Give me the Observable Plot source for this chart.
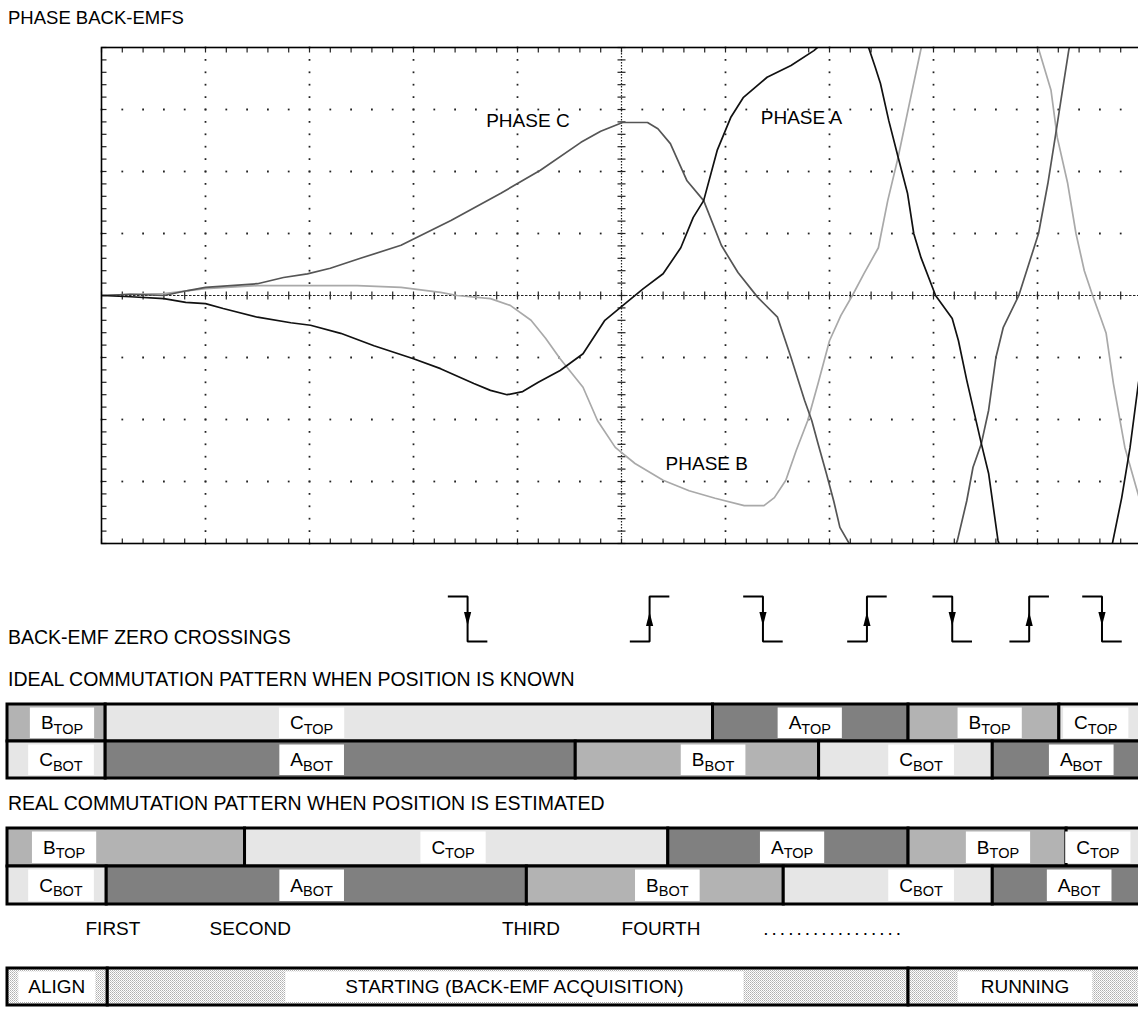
<!DOCTYPE html>
<html><head><meta charset="utf-8">
<script src="https://cdn.jsdelivr.net/npm/d3@7"></script>
<script src="https://cdn.jsdelivr.net/npm/@observablehq/plot@0.6"></script>
<style>
html,body{margin:0;padding:0;background:#fff;overflow:hidden;}
#root{position:relative;width:1141px;height:1014px;overflow:hidden;font-family:"Liberation Sans",Arial,Helvetica,sans-serif;}
.hd{position:absolute;left:8px;font-size:19.5px;line-height:1;color:#000;white-space:nowrap;}
</style></head><body><div id="root"></div>
<script>
// ---------------- DATA (time and voltage in scope divisions) ----------------
const phaseA = [[0,0],[0.28,-0.02],[0.60,-0.05],[0.81,-0.11],[1.00,-0.13],[1.17,-0.21],[1.50,-0.35],[1.82,-0.44],[2.01,-0.48],[2.30,-0.61],[2.62,-0.81],[3.00,-1.02],[3.26,-1.18],[3.58,-1.42],[3.74,-1.53],[3.90,-1.60],[4.05,-1.55],[4.20,-1.40],[4.41,-1.21],[4.63,-0.94],[4.84,-0.40],[5.02,-0.15],[5.21,0.11],[5.40,0.35],[5.57,0.77],[5.69,1.26],[5.79,1.53],[5.92,2.34],[6.05,2.87],[6.17,3.19],[6.40,3.52],[6.63,3.71],[6.85,3.95],[6.96,4.11],[7.17,4.6],[7.32,4.19],[7.38,3.98],[7.44,3.68],[7.49,3.42],[7.57,2.82],[7.66,2.23],[7.75,1.65],[7.81,1.00],[7.88,0.61],[8.02,0],[8.18,-0.37],[8.24,-0.73],[8.32,-1.37],[8.46,-2.39],[8.53,-2.87],[8.62,-3.95],[8.74,-4.6],[9.15,-5.2],[9.61,-4.6],[9.72,-4.0],[9.81,-3.26],[9.89,-2.45],[9.97,-1.42],[10.04,-0.73]];
const phaseB = [[0,0],[0.28,0.02],[0.60,0.03],[1.00,0.11],[1.50,0.16],[2.01,0.16],[2.46,0.16],[2.88,0.13],[3.26,0.05],[3.42,0],[3.74,-0.05],[3.93,-0.16],[4.13,-0.40],[4.27,-0.69],[4.41,-1.02],[4.63,-1.48],[4.77,-2.02],[4.94,-2.45],[5.13,-2.71],[5.40,-2.98],[5.65,-3.15],[5.90,-3.27],[6.18,-3.39],[6.37,-3.39],[6.47,-3.26],[6.58,-2.98],[6.68,-2.50],[6.79,-2.02],[6.89,-1.42],[7.00,-0.73],[7.11,-0.32],[7.22,0],[7.33,0.35],[7.47,0.77],[7.56,1.53],[7.66,2.23],[7.76,3.03],[7.88,3.98],[7.92,4.35],[8.45,5.0],[8.96,4.35],[9.01,3.98],[9.13,3.31],[9.19,2.55],[9.29,1.81],[9.37,1.00],[9.45,0.40],[9.53,0],[9.61,-0.37],[9.66,-0.61],[9.73,-1.42],[9.84,-2.45],[9.95,-3.10],[10.04,-3.63]];
const phaseC = [[0,0],[0.28,0.02],[0.60,0],[0.83,0.08],[1.00,0.13],[1.50,0.19],[1.75,0.29],[1.98,0.35],[2.20,0.44],[2.49,0.60],[2.88,0.81],[3.36,1.21],[3.84,1.65],[4.22,2.02],[4.61,2.47],[4.80,2.65],[5.01,2.79],[5.25,2.79],[5.35,2.69],[5.47,2.45],[5.63,1.85],[5.79,1.53],[5.96,0.81],[6.12,0.37],[6.31,-0.03],[6.50,-0.35],[6.63,-1.00],[6.76,-1.69],[6.83,-2.02],[6.89,-2.39],[6.97,-2.87],[7.04,-3.31],[7.10,-3.74],[7.20,-4.03],[7.30,-4.44],[7.68,-4.9],[8.12,-4.44],[8.23,-3.95],[8.32,-3.31],[8.38,-2.77],[8.46,-2.39],[8.53,-1.85],[8.60,-1.00],[8.67,-0.52],[8.82,0],[9.01,1.00],[9.10,1.81],[9.17,2.55],[9.24,3.31],[9.30,3.95],[9.34,4.27],[9.6,5]];

const phaseLabelText = ["PHASE C", "PHASE A", "PHASE B"];
const phaseLabelT = [4.10, 6.73, 5.82];
const phaseLabelV = [2.81, 2.87, -2.71];

// back-EMF zero crossings (time, direction)
const crossingTimes = [3.52, 5.27, 6.36, 7.36, 8.18, 8.92, 9.62];
const crossingDirs = ["fall", "rise", "fall", "rise", "fall", "rise", "fall"];

// diagram start (left edge of the patterns) and scope end, in divisions
const T0 = -0.904, T1 = 10;

// ideal commutation pattern
const idealTopPhases = ["B", "C", "A", "B", "C"];
const idealTopEdges  = [T0, 0.04, 5.88, 7.76, 9.21, T1];
const idealTopLabelAt = [-0.38, 2.02, 6.81, 8.54, 9.56];
const idealBotPhases = ["C", "A", "B", "C", "A"];
const idealBotEdges  = [T0, 0.04, 4.56, 6.90, 8.57, T1];
const idealBotLabelAt = [-0.39, 2.02, 5.88, 7.88, 9.42];

// real commutation pattern
const realTopPhases = ["B", "C", "A", "B", "C"];
const realTopEdges  = [T0, 1.38, 5.45, 7.76, 9.28, T1];
const realTopLabelAt = [-0.36, 3.38, 6.64, 8.62, 9.58];
const realBotPhases = ["C", "A", "B", "C", "A"];
const realBotEdges  = [T0, 0.05, 4.09, 6.56, 8.57, T1];
const realBotLabelAt = [-0.39, 2.02, 5.44, 7.88, 9.40];

// commutation ordinals
const ordinalNames = ["FIRST", "SECOND", "THIRD", "FOURTH", "................."];
const ordinalAt = [0.11, 1.43, 4.13, 5.38, 7.04];

// stages
const stageNames = ["ALIGN", "STARTING (BACK-EMF ACQUISITION)", "RUNNING"];
const stageEdges = [T0, 0.06, 7.76, T1];
const stageLabelAt = [-0.43, 3.97, 8.88];

// ---------------- RENDER ----------------
const FONT = '"Liberation Sans", Arial, Helvetica, sans-serif';
const W = 1141;
const NS = "http://www.w3.org/2000/svg";
const root = document.getElementById("root");
const baseStyle = {background: "transparent", maxWidth: "none", fontFamily: FONT, overflow: "visible"};
function place(node, top) { node.style.position = "absolute"; node.style.left = "0px"; node.style.top = top + "px"; root.appendChild(node); return node; }
function heading(text, capCenter, size) { const d = document.createElement("div"); d.className = "hd"; d.textContent = text; if (size) d.style.fontSize = size + "px"; d.style.top = (capCenter - 9.3) + "px"; root.appendChild(d); }

// symbols
const hTick = {draw(c) { c.moveTo(-4, 0); c.lineTo(4, 0); }};
const vTick = {draw(c) { c.moveTo(0, -4); c.lineTo(0, 4); }};
const topTick = {draw(c) { c.moveTo(0, 0); c.lineTo(0, 5); }};
const botTick = {draw(c) { c.moveTo(0, 0); c.lineTo(0, -5); }};
const leftTick = {draw(c) { c.moveTo(0, 0); c.lineTo(5, 0); }};
const triDown = {draw(c) { c.moveTo(-3.6, -7); c.lineTo(3.6, -7); c.lineTo(0, 7); c.closePath(); }};
const triUp = {draw(c) { c.moveTo(-3.6, 7); c.lineTo(3.6, 7); c.lineTo(0, -7); c.closePath(); }};

// scope grid positions (axis subdivisions)
const minorX = d3.range(0, 51).map(i => i / 5);
const minorY = d3.range(-20, 21).map(i => i / 5);
const gridV = [1, 2, 3, 4, 6, 7, 8, 9].flatMap(x => minorY.map(y => ({x, y})));
const gridH = [-3, -2, -1, 1, 2, 3].flatMap(y => minorX.map(x => ({x, y})));
const toPts = arr => arr.map(d => ({t: d[0], v: d[1]}));

const scope = Plot.plot({
  width: W, height: 560, marginLeft: 101, marginRight: 0, marginTop: 47, marginBottom: 17,
  x: {domain: [0, 10], axis: null},
  y: {domain: [-4, 4], axis: null},
  style: baseStyle,
  marks: [
    Plot.dot(gridV, {x: "x", y: "y", r: 1, symbol: "square", fill: "#222"}),
    Plot.dot(gridH, {x: "x", y: "y", r: 1, symbol: "square", fill: "#222"}),
    Plot.ruleX([5], {stroke: "#222", strokeDasharray: "1.5,1.5", strokeWidth: 1.2}),
    Plot.ruleY([0], {stroke: "#222", strokeDasharray: "2.5,1.5", strokeWidth: 1.2}),
    Plot.dot(minorY.map(y => ({y})), {x: () => 5, y: "y", r: 1, symbol: hTick, stroke: "#222", fill: "none", strokeWidth: 1.2}),
    Plot.dot(minorX.map(x => ({x})), {x: "x", y: () => 0, r: 1, symbol: vTick, stroke: "#222", fill: "none", strokeWidth: 1.2}),
    Plot.dot(minorX.map(x => ({x})), {x: "x", y: () => 4, r: 1, symbol: topTick, stroke: "#222", fill: "none", strokeWidth: 1.2}),
    Plot.dot(minorX.map(x => ({x})), {x: "x", y: () => -4, r: 1, symbol: botTick, stroke: "#222", fill: "none", strokeWidth: 1.2}),
    Plot.dot(minorY.map(y => ({y})), {x: () => 0, y: "y", r: 1, symbol: leftTick, stroke: "#222", fill: "none", strokeWidth: 1.2}),
    Plot.line(toPts(phaseB), {x: "t", y: "v", stroke: "#a9a9a9", strokeWidth: 1.7, clip: true}),
    Plot.line(toPts(phaseC), {x: "t", y: "v", stroke: "#555", strokeWidth: 1.7, clip: true}),
    Plot.line(toPts(phaseA), {x: "t", y: "v", stroke: "#111", strokeWidth: 1.7, clip: true}),
    Plot.text(phaseLabelText.map((s, i) => ({s, t: phaseLabelT[i], v: phaseLabelV[i]})), {x: "t", y: "v", text: "s", fontSize: 19, fill: "black"}),
    Plot.frame({stroke: "black", strokeWidth: 1.6})
  ]
});
place(scope, 0);

// lower diagrams share a time axis starting at T0
const lowerX = {domain: [T0, T1], axis: null};
const STEP = 0.19;

const steps = crossingTimes.flatMap((t, i) => {
  const lv = crossingDirs[i] === "fall" ? [1, 0] : [0, 1];
  return [{i, t: t - STEP, v: lv[0]}, {i, t, v: lv[0]}, {i, t, v: lv[1]}, {i, t: t + STEP, v: lv[1]}];
});
const crossPts = crossingTimes.map((t, i) => ({t, dir: crossingDirs[i]}));
const crossing = Plot.plot({
  width: W, height: 80, marginLeft: 7, marginRight: 0, marginTop: 16, marginBottom: 19,
  x: lowerX, y: {domain: [0, 1], axis: null}, style: baseStyle,
  marks: [
    Plot.line(steps, {x: "t", y: "v", z: "i", stroke: "black", strokeWidth: 2, strokeLinejoin: "miter", strokeLinecap: "butt"}),
    Plot.dot(crossPts.filter(d => d.dir === "fall"), {x: "t", y: () => 0.5, r: 4, symbol: triDown, fill: "black", stroke: "none"}),
    Plot.dot(crossPts.filter(d => d.dir === "rise"), {x: "t", y: () => 0.5, r: 4, symbol: triUp, fill: "black", stroke: "none"})
  ]
});
place(crossing, 580);

const phaseColor = {domain: ["A", "B", "C"], range: ["#808080", "#b3b3b3", "#e6e6e6"]};
function segs(phases, edges, row) { return phases.map((p, i) => ({phase: p, x1: edges[i], x2: edges[i + 1], row})); }
function labs(phases, at, row) { return phases.map((p, i) => ({name: p + "_" + row, t: at[i], row})); }

function decorateLabels(svg, pads, insetTop, insetBot) {
  const texts = svg.querySelectorAll('g[aria-label="text"] text');
  texts.forEach((el, k) => {
    const pad = Array.isArray(pads) ? pads[k] : pads;
    const s = el.textContent;
    if (s.includes("_")) {
      const [a, b] = s.split("_");
      el.textContent = "";
      const t1 = document.createElementNS(NS, "tspan"); t1.textContent = a; el.appendChild(t1);
      const t2 = document.createElementNS(NS, "tspan"); t2.textContent = b;
      t2.setAttribute("font-size", "14.5"); t2.setAttribute("dy", "0.32em"); el.appendChild(t2);
    }
    const bw = +el.dataset.bw;
    const bb = el.getBBox();
    const r = document.createElementNS(NS, "rect");
    r.setAttribute("x", bb.x - pad); r.setAttribute("width", bb.width + 2 * pad);
    r.setAttribute("y", -bw / 2 + insetTop); r.setAttribute("height", bw - insetTop - insetBot);
    r.setAttribute("fill", "white");
    const tr = el.getAttribute("transform"); if (tr) r.setAttribute("transform", tr);
    el.parentNode.insertBefore(r, el);
  });
}

function commPlot(top, rowH, topPh, topEd, topAt, botPh, botEd, botAt) {
  const p = Plot.plot({
    width: W, height: 6 + 2 * rowH, marginLeft: 7, marginRight: 0, marginTop: 4, marginBottom: 2,
    x: lowerX, y: {type: "band", domain: ["TOP", "BOT"], padding: 0, axis: null},
    color: phaseColor, style: baseStyle,
    marks: [
      Plot.barX([...segs(topPh, topEd, "TOP"), ...segs(botPh, botEd, "BOT")], {x1: "x1", x2: "x2", y: "row", fill: "phase", stroke: "black", strokeWidth: 3}),
      Plot.text([...labs(topPh, topAt, "TOP"), ...labs(botPh, botAt, "BOT")], {x: "t", y: "row", text: "name", fontSize: 19, fill: "black"})
    ]
  });
  place(p, top);
  p.querySelectorAll('g[aria-label="text"] text').forEach(el => el.dataset.bw = rowH);
  decorateLabels(p, 11, 3, 3.5);
}
commPlot(700, 37, idealTopPhases, idealTopEdges, idealTopLabelAt, idealBotPhases, idealBotEdges, idealBotLabelAt);
commPlot(824, 38, realTopPhases, realTopEdges, realTopLabelAt, realBotPhases, realBotEdges, realBotLabelAt);

const ordinals = Plot.plot({
  width: W, height: 40, marginLeft: 7, marginRight: 0, marginTop: 0, marginBottom: 0,
  x: lowerX, style: baseStyle,
  marks: [Plot.text(ordinalNames.map((s, i) => ({s, t: ordinalAt[i]})), {x: "t", text: "s", fontSize: 19, fill: "black"})]
});
place(ordinals, 908);
ordinals.querySelectorAll('g[aria-label="text"] text').forEach(el => { if (el.textContent.startsWith(".")) el.setAttribute("letter-spacing", "3"); });

const stageRowH = 37;
const stage = Plot.plot({
  width: W, height: 8 + stageRowH + 9, marginLeft: 7, marginRight: 0, marginTop: 8, marginBottom: 9,
  x: lowerX, y: {type: "band", domain: ["S"], padding: 0, axis: null}, style: baseStyle,
  marks: [
    Plot.barX(stageNames.map((s, i) => ({s, x1: stageEdges[i], x2: stageEdges[i + 1]})), {x1: "x1", x2: "x2", y: () => "S", fill: "url(#stagedots)", stroke: "black", strokeWidth: 3}),
    Plot.text(stageNames.map((s, i) => ({s, t: stageLabelAt[i]})), {x: "t", y: () => "S", text: "s", fontSize: 19, fill: "black"})
  ]
});
{
  const defs = document.createElementNS(NS, "defs");
  defs.innerHTML = '<pattern id="stagedots" width="2" height="2" patternUnits="userSpaceOnUse"><rect width="2" height="2" fill="#ffffff"/><rect width="1" height="1" fill="#b0b0b0"/><rect x="1" y="1" width="1" height="1" fill="#c8c8c8"/></pattern>';
  stage.insertBefore(defs, stage.firstChild);
}
place(stage, 960);
stage.querySelectorAll('g[aria-label="text"] text').forEach(el => el.dataset.bw = stageRowH);
decorateLabels(stage, [10, 60, 23], 3, 3.5);

heading("PHASE BACK-EMFS", 18, 18.5);
heading("BACK-EMF ZERO CROSSINGS", 637);
heading("IDEAL COMMUTATION PATTERN WHEN POSITION IS KNOWN", 679);
heading("REAL COMMUTATION PATTERN WHEN POSITION IS ESTIMATED", 803);
</script></body></html>
